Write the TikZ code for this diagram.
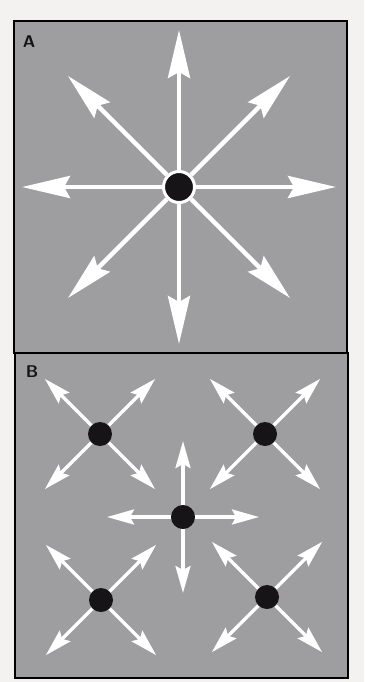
\documentclass[tikz,border=0pt]{standalone}
\usepackage{fontspec}
\usetikzlibrary{arrows.meta}
\definecolor{paper}{RGB}{244,242,240}
\definecolor{panelgray}{RGB}{158,158,160}
\definecolor{dotblack}{RGB}{22,20,22}

\begin{document}
\begin{tikzpicture}[x=1pt,y=-1pt,
    panel/.style={draw=black,line width=1.4pt,fill=panelgray},
    bigdot/.style={circle,fill=dotblack,draw=white,line width=3pt,minimum size=31pt,inner sep=0pt},
    smalldot/.style={circle,fill=dotblack,minimum size=24pt,inner sep=0pt},
    bigray/.style={draw=white,line width=4.5pt,-{Stealth[length=48pt,width=22pt,inset=6pt]}},
    smallray/.style={draw=white,line width=3.2pt,-{Stealth[length=27pt,width=15pt,inset=4pt]}},
    tag/.style={font=\fontsize{17}{17}\selectfont\bfseries\sffamily,text=dotblack}]
  \fill[paper] (0,0) rectangle (364,682);
  \useasboundingbox (0,0) rectangle (364,682);
  % the two panels
  \draw[panel] (14,21) rectangle (347,353);
  \draw[panel] (15,353) rectangle (348,678);
  \node[tag] (labA) at (29,42) {A};
  \node[tag] (labB) at (32,372) {B};
  % panel A: one source, eight rays
  \node[bigdot] (hubA) at (179,187) {};
  \foreach \ang in {0,45,...,315} {
    \path (hubA.center) ++(\ang:157) coordinate (tipA\ang);
    \draw[bigray] (hubA) -- (tipA\ang);
  }
  % panel B: four corner sources
  \foreach \hb/\px/\py in {tl/100/434, tr/265/434, bl/101/600, br/267/597} {
    \node[smalldot] (hub\hb) at (\px,\py) {};
    \foreach \ang in {45,135,225,315} {
      \path (hub\hb.center) ++(\ang:78) coordinate (tip\hb\ang);
      \draw[smallray] (hub\hb) -- (tip\hb\ang);
    }
  }
  % panel B: middle source
  \node[smalldot] (hubmid) at (183,517) {};
  \foreach \ang in {0,90,180,270} {
    \path (hubmid.center) ++(\ang:76) coordinate (tipmid\ang);
    \draw[smallray] (hubmid) -- (tipmid\ang);
  }
\end{tikzpicture}
\end{document}
